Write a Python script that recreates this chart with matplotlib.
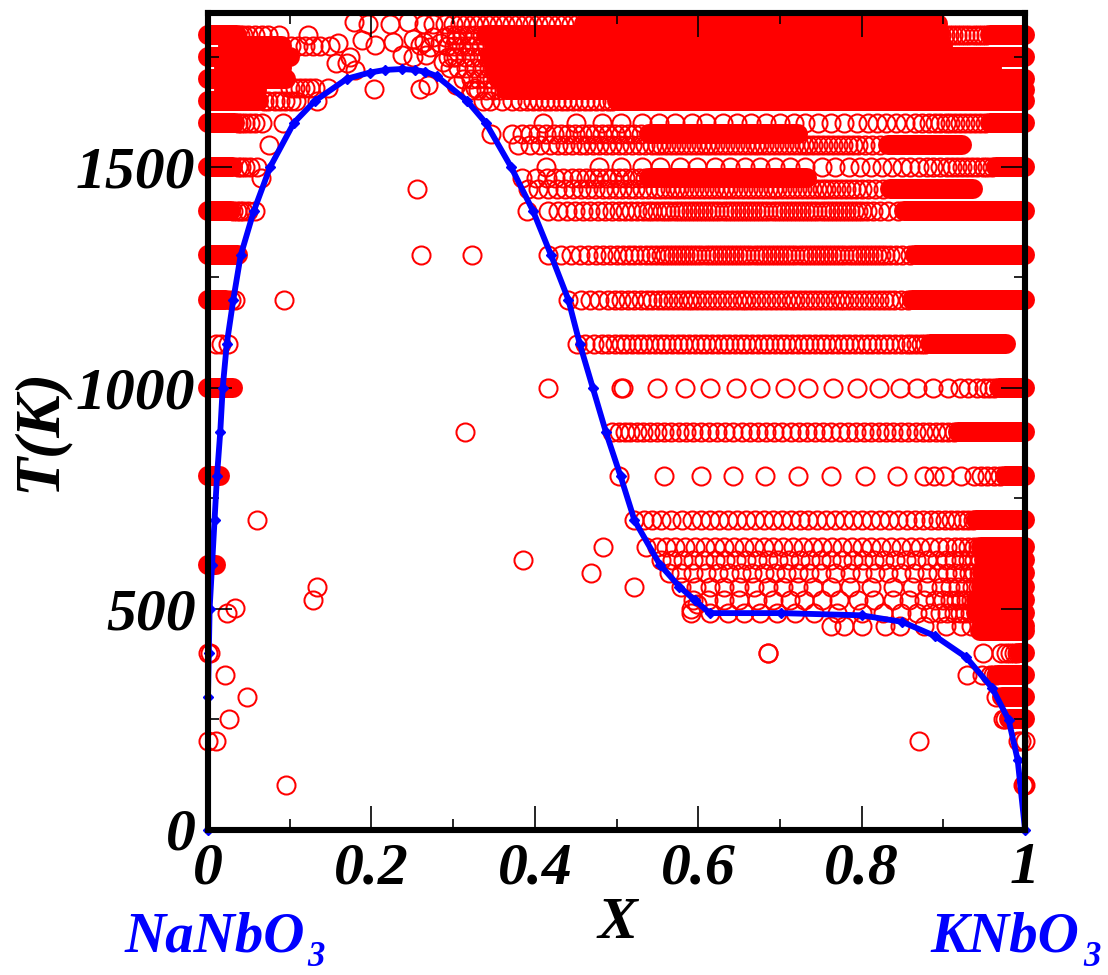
import matplotlib
matplotlib.use("Agg")
import matplotlib.pyplot as plt

# phase boundary
curve_x = [0, 0, 0.001, 0.002, 0.005, 0.008, 0.011, 0.015, 0.018, 0.023, 0.031, 0.040, 0.056, 0.076, 0.105, 0.131,
           0.170, 0.198, 0.217, 0.237, 0.253, 0.266, 0.280, 0.317, 0.340, 0.371, 0.398, 0.420, 0.441, 0.455, 0.471,
           0.487, 0.505, 0.522, 0.553, 0.577, 0.596, 0.614, 0.701, 0.800, 0.850, 0.890, 0.928, 0.960, 0.980, 0.991, 1.0]
curve_t = [0, 300, 400, 500, 600, 700, 800, 900, 1000, 1100, 1200, 1300, 1400, 1500, 1600, 1650,
           1700, 1714, 1720, 1722, 1720, 1716, 1706, 1650, 1600, 1500, 1400, 1300, 1200, 1100, 1000,
           900, 800, 700, 600, 550, 519, 490, 490, 485, 470, 438, 390, 320, 248, 158, 0]

# open circles that can still be told apart
row_1825 = [0.300, 0.308, 0.316, 0.324, 0.332, 0.340, 0.348, 0.356, 0.364, 0.372, 0.380, 0.388, 0.396, 0.404, 0.412,
            0.420, 0.428, 0.436, 0.444, 0.452]
row_1800 = [0.296, 0.303, 0.311, 0.319, 0.327, 0.335, 0.892, 0.897, 0.902, 0.907, 0.912, 0.917, 0.922, 0.927, 0.932,
            0.937, 0.942, 0.947, 0.952]
row_1775 = [0.292, 0.301, 0.310, 0.318, 0.326, 0.334, 0.342]
row_1750 = [0.294, 0.304, 0.314, 0.323, 0.332, 0.340]
row_1725 = [0.296, 0.306, 0.316, 0.326, 0.335, 0.344]
row_1700 = [0.312, 0.322, 0.331, 0.340, 0.348]
row_1675 = [0.322, 0.331, 0.340, 0.349, 0.357]
row_1650 = [0.345, 0.360, 0.372, 0.382, 0.390, 0.398, 0.405, 0.412, 0.419, 0.426, 0.433, 0.440, 0.447, 0.454, 0.461,
            0.468, 0.475, 0.482, 0.489, 0.495]
row_1600 = [0.037, 0.041, 0.045, 0.051, 0.058, 0.066, 0.092, 0.410, 0.451, 0.482, 0.506, 0.531, 0.552, 0.572, 0.592,
            0.610, 0.630, 0.647, 0.665, 0.683, 0.700, 0.717, 0.731, 0.747, 0.763, 0.779, 0.794, 0.808, 0.819, 0.830,
            0.842, 0.853, 0.865, 0.874, 0.882, 0.890, 0.896, 0.903, 0.908, 0.914, 0.920, 0.927, 0.933, 0.939, 0.945, 0.951]
row_1575 = [0.347, 0.372, 0.384, 0.394, 0.404, 0.414, 0.424, 0.432, 0.441, 0.449, 0.458, 0.466, 0.474, 0.482, 0.490,
            0.498, 0.506, 0.514, 0.522, 0.530]
row_1550 = [0.075, 0.380, 0.394, 0.406, 0.419, 0.428, 0.437, 0.446, 0.455, 0.463, 0.471, 0.479, 0.487, 0.495, 0.503,
            0.511, 0.519, 0.527, 0.535, 0.543, 0.549, 0.555, 0.561, 0.567, 0.573, 0.579, 0.585, 0.591, 0.597, 0.603,
            0.609, 0.615, 0.621, 0.627, 0.633, 0.639, 0.645, 0.651, 0.657, 0.663, 0.669, 0.675, 0.681, 0.687, 0.693,
            0.699, 0.705, 0.711, 0.717, 0.723, 0.729, 0.735, 0.741, 0.747, 0.753, 0.759, 0.765, 0.771, 0.777, 0.783,
            0.789, 0.796, 0.804, 0.813, 0.823]
row_1500 = [0.037, 0.041, 0.045, 0.051, 0.060, 0.414, 0.478, 0.506, 0.531, 0.553, 0.578, 0.599, 0.620, 0.639, 0.657,
            0.676, 0.694, 0.712, 0.731, 0.751, 0.767, 0.784, 0.798, 0.812, 0.825, 0.837, 0.849, 0.859, 0.870, 0.880,
            0.888, 0.896, 0.905, 0.911, 0.917, 0.923, 0.929, 0.935, 0.941, 0.948, 0.954, 0.960]
row_1475 = [0.065, 0.384, 0.402, 0.415, 0.425, 0.435, 0.445, 0.454, 0.463, 0.471, 0.479, 0.487, 0.495, 0.503, 0.511,
            0.519, 0.527, 0.535]
row_1450 = [0.256, 0.392, 0.404, 0.416, 0.427, 0.437, 0.447, 0.456, 0.465, 0.474, 0.483, 0.491, 0.499, 0.507, 0.515,
            0.523, 0.531, 0.539, 0.547, 0.553, 0.559, 0.565, 0.571, 0.577, 0.583, 0.589, 0.595, 0.601, 0.607, 0.613,
            0.619, 0.625, 0.631, 0.637, 0.643, 0.649, 0.655, 0.661, 0.667, 0.673, 0.679, 0.685, 0.691, 0.697, 0.703,
            0.709, 0.715, 0.721, 0.727, 0.733, 0.739, 0.745, 0.751, 0.757, 0.763, 0.769, 0.775, 0.781, 0.787, 0.793,
            0.800, 0.808, 0.817, 0.826]
row_1400 = [0.031, 0.035, 0.039, 0.043, 0.049, 0.058, 0.390, 0.416, 0.428, 0.439, 0.449, 0.459, 0.468, 0.477, 0.486,
            0.495, 0.503, 0.511, 0.518, 0.525, 0.532, 0.538, 0.544, 0.550, 0.556, 0.561, 0.566, 0.571, 0.576, 0.581,
            0.586, 0.591, 0.596, 0.601, 0.606, 0.611, 0.616, 0.621, 0.626, 0.631, 0.636, 0.641, 0.646, 0.651, 0.656,
            0.661, 0.666, 0.671, 0.676, 0.681, 0.686, 0.691, 0.696, 0.701, 0.706, 0.711, 0.716, 0.721, 0.726, 0.731,
            0.736, 0.741, 0.746, 0.751, 0.756, 0.761, 0.766, 0.771, 0.776, 0.781, 0.786, 0.791, 0.796, 0.801, 0.807,
            0.814, 0.822, 0.832, 0.844]
row_1300 = [0.261, 0.323, 0.416, 0.432, 0.444, 0.455, 0.465, 0.475, 0.484, 0.492, 0.500, 0.508, 0.515, 0.522, 0.529,
            0.536, 0.542, 0.548, 0.554, 0.559, 0.564, 0.569, 0.574, 0.579, 0.584, 0.589, 0.594, 0.599, 0.604, 0.609,
            0.614, 0.619, 0.624, 0.629, 0.634, 0.639, 0.644, 0.649, 0.654, 0.659, 0.664, 0.669, 0.674, 0.679, 0.684,
            0.689, 0.694, 0.699, 0.704, 0.709, 0.714, 0.719, 0.724, 0.729, 0.734, 0.739, 0.744, 0.749, 0.754, 0.759,
            0.764, 0.769, 0.774, 0.779, 0.784, 0.789, 0.794, 0.799, 0.804, 0.809, 0.814, 0.819, 0.824, 0.829, 0.835,
            0.842, 0.850, 0.859]
row_1200 = [0.028, 0.033, 0.093, 0.441, 0.456, 0.468, 0.479, 0.489, 0.498, 0.506, 0.514, 0.522, 0.530, 0.537, 0.544,
            0.551, 0.557, 0.563, 0.569, 0.575, 0.581, 0.587, 0.593, 0.599, 0.605, 0.611, 0.617, 0.623, 0.629, 0.635,
            0.641, 0.647, 0.653, 0.659, 0.665, 0.671, 0.677, 0.683, 0.689, 0.695, 0.701, 0.707, 0.713, 0.719, 0.725,
            0.731, 0.737, 0.743, 0.749, 0.755, 0.761, 0.767, 0.773, 0.779, 0.785, 0.791, 0.797, 0.803, 0.809, 0.815,
            0.821, 0.827, 0.833, 0.840, 0.848, 0.857]
row_1100 = [0.010, 0.016, 0.025, 0.452, 0.462, 0.472, 0.482, 0.490, 0.498, 0.505, 0.512, 0.519, 0.526, 0.533, 0.540,
            0.547, 0.554, 0.561, 0.568, 0.575, 0.582, 0.589, 0.596, 0.603, 0.610, 0.617, 0.624, 0.631, 0.638, 0.645,
            0.652, 0.659, 0.666, 0.673, 0.680, 0.687, 0.694, 0.701, 0.708, 0.715, 0.722, 0.729, 0.736, 0.743, 0.750,
            0.757, 0.764, 0.771, 0.778, 0.785, 0.792, 0.799, 0.806, 0.813, 0.820, 0.827, 0.834, 0.841, 0.848, 0.855,
            0.861, 0.867, 0.873, 0.878]
row_1000 = [0.416, 0.505, 0.508, 0.549, 0.584, 0.615, 0.646, 0.676, 0.706, 0.735, 0.765, 0.794, 0.821, 0.847, 0.868,
            0.888, 0.906, 0.920, 0.930, 0.941, 0.950, 0.956, 0.962]
row_900 = [0.315, 0.494, 0.503, 0.510, 0.517, 0.525, 0.533, 0.541, 0.549, 0.558, 0.567, 0.576, 0.585, 0.594, 0.603,
           0.613, 0.623, 0.633, 0.643, 0.653, 0.663, 0.673, 0.683, 0.693, 0.703, 0.713, 0.723, 0.733, 0.743, 0.753,
           0.763, 0.773, 0.783, 0.793, 0.803, 0.812, 0.821, 0.830, 0.839, 0.848, 0.857, 0.866, 0.875, 0.883, 0.891,
           0.899, 0.906, 0.913]
row_800 = [0.503, 0.558, 0.603, 0.643, 0.682, 0.722, 0.763, 0.804, 0.843, 0.876, 0.889, 0.901, 0.922, 0.937, 0.946,
           0.954, 0.962, 0.969]
row_700 = [0.060, 0.522, 0.534, 0.544, 0.555, 0.567, 0.580, 0.592, 0.603, 0.614, 0.625, 0.636, 0.647, 0.658, 0.669,
           0.680, 0.691, 0.702, 0.713, 0.724, 0.735, 0.746, 0.757, 0.768, 0.779, 0.790, 0.801, 0.812, 0.823, 0.834,
           0.845, 0.855, 0.865, 0.875, 0.885, 0.894, 0.902, 0.910, 0.917, 0.924, 0.930, 0.936]
row_640 = [0.484, 0.536, 0.549, 0.560, 0.572, 0.584, 0.596, 0.608, 0.620, 0.632, 0.644, 0.656, 0.668, 0.680, 0.692,
           0.704, 0.716, 0.728, 0.740, 0.752, 0.764, 0.776, 0.788, 0.800, 0.812, 0.824, 0.836, 0.848, 0.860, 0.872,
           0.884, 0.895, 0.905, 0.914, 0.922, 0.930, 0.937, 0.943]
row_610 = [0.386, 0.555, 0.568, 0.581, 0.594, 0.607, 0.620, 0.633, 0.646, 0.659, 0.672, 0.685, 0.698, 0.711, 0.724,
           0.737, 0.750, 0.763, 0.776, 0.789, 0.802, 0.815, 0.828, 0.841, 0.854, 0.867, 0.880, 0.892, 0.903, 0.913,
           0.922, 0.930, 0.938, 0.945]
row_580 = [0.469, 0.564, 0.579, 0.594, 0.609, 0.624, 0.638, 0.652, 0.666, 0.680, 0.694, 0.708, 0.722, 0.736, 0.750,
           0.768, 0.786, 0.801, 0.816, 0.832, 0.848, 0.864, 0.880, 0.893, 0.904, 0.914, 0.923, 0.931, 0.938, 0.944]
row_550 = [0.133, 0.522, 0.579, 0.597, 0.615, 0.632, 0.650, 0.668, 0.686, 0.704, 0.722, 0.740, 0.762, 0.786, 0.812,
           0.838, 0.862, 0.880, 0.897, 0.908, 0.918, 0.927, 0.935, 0.942]
row_520 = [0.128, 0.594, 0.612, 0.632, 0.650, 0.672, 0.692, 0.712, 0.730, 0.752, 0.772, 0.795, 0.815, 0.838, 0.858,
           0.876, 0.890, 0.900, 0.908, 0.915, 0.922, 0.928, 0.934]
row_490 = [0.023, 0.591, 0.614, 0.636, 0.656, 0.676, 0.696, 0.718, 0.742, 0.770, 0.800, 0.826, 0.848, 0.868, 0.884,
           0.896, 0.905, 0.913, 0.920, 0.927, 0.933]
row_460 = [0.762, 0.778, 0.800, 0.829, 0.847, 0.876, 0.903, 0.922, 0.934, 0.946]
row_400 = [0, 0.002, 0.685, 0.686, 0.949, 0.971, 0.977, 0.982, 0.986, 0.990]
row_350 = [0.021, 0.929, 0.947, 0.957, 0.961, 0.965]
row_300 = [0.048, 0.965]
row_250 = [0.026, 0.973, 0.976]
row_200 = [0, 0.010, 0.870, 0.991, 0.995, 1.0]
row_100 = [0.095, 0.997, 0.999, 1.0]

circle_rows = {1825: row_1825, 1800: row_1800, 1775: row_1775, 1750: row_1750, 1725: row_1725, 1700: row_1700,
               1675: row_1675, 1650: row_1650, 1600: row_1600, 1575: row_1575, 1550: row_1550, 1500: row_1500,
               1475: row_1475, 1450: row_1450, 1400: row_1400, 1300: row_1300, 1200: row_1200, 1100: row_1100,
               1000: row_1000, 900: row_900, 800: row_800, 700: row_700, 640: row_640, 610: row_610, 580: row_580,
               550: row_550, 520: row_520, 490: row_490, 460: row_460, 400: row_400, 350: row_350, 300: row_300,
               250: row_250, 200: row_200, 100: row_100}

# loose circles at the top of the dome and a few off-row ones
loose_x = [0.179, 0.196, 0.223, 0.245, 0.264, 0.276, 0.290, 0.188, 0.205, 0.227, 0.251, 0.264, 0.276, 0.290, 0.260,
           0.272, 0.284, 0.304, 0.159, 0.174, 0.157, 0.170, 0.180, 0.237, 0.251, 0.267, 0.288, 0.300, 0.304, 0.327,
           0.337, 0.203, 0.259, 0.269, 0.039, 0.043, 0.049, 0.058, 0.066, 0.074, 0.087, 0.123, 0.102, 0.110, 0.119,
           0.129, 0.137, 0.149, 0.100, 0.107, 0.113, 0.119, 0.125, 0.131, 0.147, 0.068, 0.074, 0.082, 0.088, 0.094,
           0.102, 0.108, 0.133, 0.033, 0.591, 0.598]
loose_t = [1829, 1825, 1825, 1829, 1825, 1825, 1825, 1787, 1776, 1784, 1790, 1784, 1795, 1795, 1776,
           1772, 1780, 1787, 1780, 1749, 1735, 1735, 1720, 1754, 1749, 1754, 1738, 1749, 1685, 1678,
           1650, 1676, 1676, 1685, 1800, 1800, 1800, 1800, 1800, 1800, 1800, 1800, 1775, 1775, 1775,
           1775, 1775, 1775, 1680, 1680, 1680, 1680, 1680, 1680, 1680, 1650, 1650, 1650, 1650, 1650,
           1650, 1650, 1650, 501, 500, 510]

# stretches so tightly packed the circles merge: temperature, first X, last X
dense_t = [1825, 1800, 1800, 1800, 1775, 1775, 1750, 1750, 1725, 1725, 1700, 1700, 1675, 1675, 1650, 1650, 1600, 1600,
           1575, 1550, 1500, 1500, 1475, 1450, 1400, 1400, 1300, 1300, 1200, 1200, 1100, 1000, 1000, 900, 800, 800,
           700, 640, 610, 600, 580, 550, 520, 490, 460, 450, 400, 350, 300, 250]
dense_a = [0.46, 0, 0.34, 0.957, 0.025, 0.35, 0, 0.345, 0.02, 0.35, 0, 0.355, 0.02, 0.365, 0, 0.50, 0, 0.957,
           0.54, 0.832, 0, 0.965, 0.54, 0.835, 0, 0.852, 0, 0.865, 0, 0.862, 0.884, 0, 0.968, 0.918, 0, 0.975,
           0.940, 0.946, 0.950, 0, 0.947, 0.946, 0.940, 0.940, 0.950, 0.945, 0.993, 0.967, 0.972, 0.980]
dense_b = [0.893, 0.035, 0.896, 1.0, 0.09, 0.90, 0.10, 1.0, 0.09, 0.96, 0.095, 1.0, 0.06, 1.0, 0.062, 1.0, 0.033, 1.0,
           0.722, 0.923, 0.030, 1.0, 0.733, 0.936, 0.028, 1.0, 0.037, 1.0, 0.022, 1.0, 0.977, 0.030, 1.0, 1.0, 0.015, 1.0,
           1.0, 1.0, 1.0, 0.010, 1.0, 1.0, 1.0, 1.0, 1.0, 1.0, 1.0, 1.0, 1.0, 1.0]

x_ticks = [0, 0.2, 0.4, 0.6, 0.8, 1]
x_tick_labels = ["0", "0.2", "0.4", "0.6", "0.8", "1"]
x_minor = [0.1, 0.3, 0.5, 0.7, 0.9]
t_ticks = [0, 500, 1000, 1500]
t_minor = [250, 750, 1250, 1750]

W, H = 1108, 975
plt.rcParams['font.family'] = ['Liberation Serif', 'DejaVu Serif']
plt.rcParams['font.weight'] = 'bold'
plt.rcParams['font.style'] = 'italic'

fig = plt.figure(figsize=(W / 100, H / 100), dpi=100)
ax = fig.add_axes([208 / W, 1 - 829.5 / H, 817 / W, 817 / H])

for t, a, b in zip(dense_t, dense_a, dense_b):
    ax.plot([a, b], [t, t], color='#ff0000', lw=14.4, solid_capstyle='round', clip_on=False, zorder=1)

for t in circle_rows:
    xs = circle_rows[t]
    ax.plot(xs, [t] * len(xs), 'o', mfc='none', mec='#ff0000', ms=13, mew=1.45, clip_on=False, zorder=1)
ax.plot(loose_x, loose_t, 'o', mfc='none', mec='#ff0000', ms=13, mew=1.45, clip_on=False, zorder=1)

ax.plot(curve_x, curve_t, '-D', color='#0000ff', lw=4.2, ms=5, clip_on=False, zorder=2)

ax.set_xlim(0, 1)
ax.set_ylim(0, 1850)
ax.set_xticks(x_ticks)
ax.set_xticklabels(x_tick_labels)
ax.set_xticks(x_minor, minor=True)
ax.set_yticks(t_ticks)
ax.set_yticks(t_minor, minor=True)
ax.tick_params(which='major', direction='in', top=True, right=True, length=17, width=1.2, labelsize=43)
ax.tick_params(which='minor', direction='in', top=True, right=True, length=8, width=1.2)
ax.tick_params(axis='x', which='major', pad=9)
ax.tick_params(axis='y', which='major', pad=9)
for s in ax.spines.values():
    s.set_linewidth(4.4)
    s.set_zorder(5)
for t in ax.xaxis.get_ticklines(minor=True) + ax.xaxis.get_ticklines() + ax.yaxis.get_ticklines(minor=True) + ax.yaxis.get_ticklines():
    t.set_zorder(4)

fig.text(617 / W, 1 - 938 / H, "X", fontsize=43, ha='center', va='baseline')
fig.text(40 / W, 1 - 430 / H, "T(K)", fontsize=46, rotation=90, ha='center', va='center')
fig.text(125 / W, 1 - 952 / H, "NaNbO", fontsize=41, color='#0000ff', ha='left', va='baseline')
fig.text(307 / W, 1 - 966 / H, "3", fontsize=25, color='#0000ff', ha='left', va='baseline')
fig.text(930 / W, 1 - 952 / H, "KNbO", fontsize=41, color='#0000ff', ha='left', va='baseline')
fig.text(1083 / W, 1 - 966 / H, "3", fontsize=25, color='#0000ff', ha='left', va='baseline')

fig.savefig("out.png", dpi=100)
